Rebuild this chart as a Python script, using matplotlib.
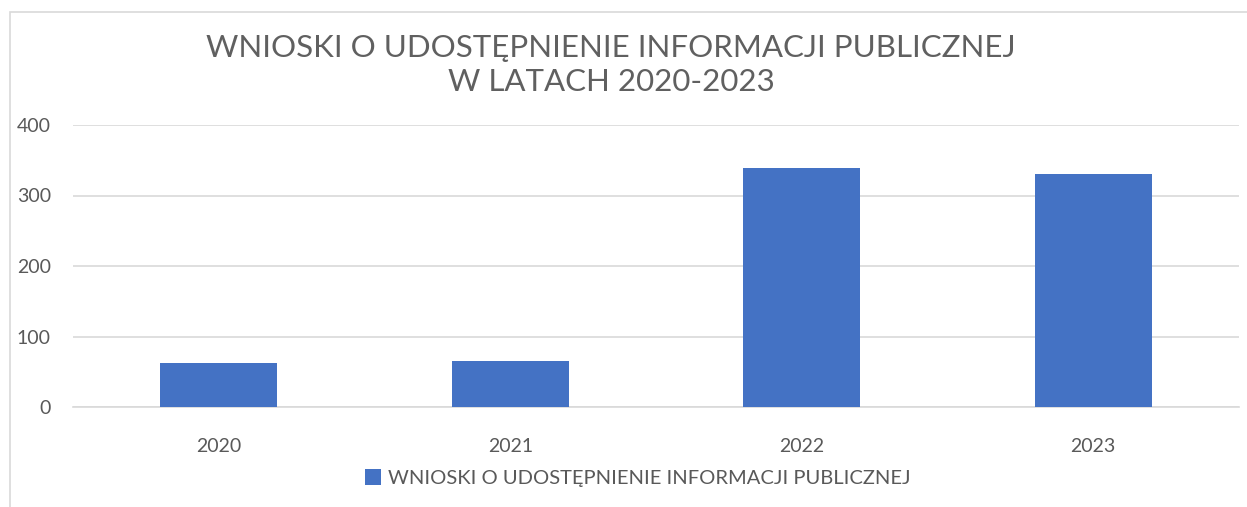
import matplotlib
matplotlib.use("Agg")
import matplotlib.pyplot as plt
from matplotlib.patches import Rectangle

years = ["2020", "2021", "2022", "2023"]
requests = [62, 65, 339, 331]
series_name = "WNIOSKI O UDOSTĘPNIENIE INFORMACJI PUBLICZNEJ"
title_text = "WNIOSKI O UDOSTĘPNIENIE INFORMACJI PUBLICZNEJ\nW LATACH 2020-2023"
y_ticks = [0, 100, 200, 300, 400]

BAR = "#4472C4"
TEXT = "#595959"
GRID = "#D9D9D9"
FONT = ["Lato", "DejaVu Sans"]

W, H = 1247, 507
fig = plt.figure(figsize=(W / 100, H / 100), dpi=100)
fig.patch.set_facecolor("white")

# outer chart border
fig.add_artist(Rectangle((10 / W, -0.1), 1.2, 1 - 12 / H + 0.1,
                         transform=fig.transFigure, fill=False,
                         edgecolor="#D9D9D9", linewidth=1.2))

ax = fig.add_axes([73 / W, 1 - 407 / H, (1239 - 73) / W, (407 - 125) / H])
x = range(len(years))
bars = ax.bar(x, requests, width=0.4, color=BAR, label=series_name, zorder=3)

ax.set_xlim(-0.5, len(years) - 0.5)
ax.set_ylim(0, 400)
ax.set_yticks(y_ticks)
ax.set_xticks(list(x))
ax.set_xticklabels(years)
ax.yaxis.grid(True, color=GRID, linewidth=1.2, zorder=0)
ax.tick_params(axis="both", length=0, labelsize=14, labelcolor=TEXT)
ax.tick_params(axis="x", pad=22)
ax.tick_params(axis="y", pad=16)
for lbl in ax.get_xticklabels() + ax.get_yticklabels():
    lbl.set_family(FONT)
for s in ["top", "right", "left"]:
    ax.spines[s].set_visible(False)
ax.spines["bottom"].set_color(GRID)
ax.spines["bottom"].set_linewidth(1.2)

fig.text(611 / W, 1 - 65 / H, title_text, ha="center", va="center",
         fontsize=22.5, color="#606060", family=FONT, linespacing=1.3)

leg = fig.legend(handles=[bars], labels=[series_name], loc="center",
                 bbox_to_anchor=(638 / W, 1 - 478 / H), frameon=False,
                 prop={"family": FONT, "size": 14.5}, handlelength=0.8,
                 handleheight=0.8, handletextpad=0.35, labelcolor=TEXT)

fig.savefig("out.png", dpi=100)
